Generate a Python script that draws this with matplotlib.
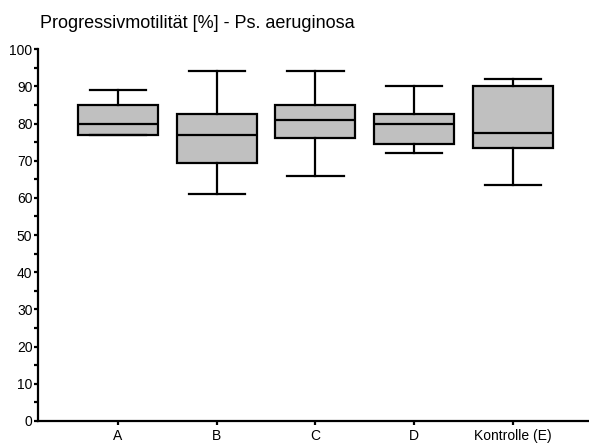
import matplotlib
matplotlib.use('Agg')
import matplotlib.pyplot as plt

plt.rcParams['font.family'] = ['Liberation Sans', 'DejaVu Sans']

# Box data
groups = ['A', 'B', 'C', 'D', 'Kontrolle (E)']
whisker_low = [77.0, 61.0, 66.0, 72.0, 63.5]
q1 = [77.0, 69.5, 76.0, 74.5, 73.5]
median = [80.0, 77.0, 81.0, 80.0, 77.5]
q3 = [85.0, 82.5, 85.0, 82.5, 90.0]
whisker_high = [89.0, 94.0, 94.0, 90.0, 92.0]

stats = []
for i in range(len(groups)):
    stats.append({
        'whislo': whisker_low[i],
        'q1': q1[i],
        'med': median[i],
        'q3': q3[i],
        'whishi': whisker_high[i],
        'fliers': [],
    })

fig = plt.figure(figsize=(5.89, 4.43), dpi=100)
ax = fig.add_axes([0.0645, 0.05, 0.9335, 0.839])

positions = list(range(1, len(groups) + 1))
ax.bxp(stats, positions=positions, widths=0.81, capwidths=0.57,
       patch_artist=True, showfliers=False,
       boxprops=dict(facecolor='#c0c0c0', edgecolor='black', linewidth=1.6),
       whiskerprops=dict(color='black', linewidth=1.6),
       capprops=dict(color='black', linewidth=1.6),
       medianprops=dict(color='black', linewidth=1.6))

ax.set_xlim(0.19, 5.76)
ax.set_ylim(0, 100)
ax.set_xticks(positions)
ax.set_xticklabels(groups)
ax.set_yticks(range(0, 101, 10))
ax.set_yticks(range(5, 100, 10), minor=True)

for side in ['top', 'right']:
    ax.spines[side].set_visible(False)
for side in ['left', 'bottom']:
    ax.spines[side].set_linewidth(1.6)

ax.tick_params(axis='both', which='both', direction='out', length=3, width=1.6, labelsize=10, pad=1)
ax.tick_params(axis='x', pad=3)

fig.text(0.068, 0.937, 'Progressivmotilität [%] - Ps. aeruginosa', fontsize=13, va='baseline')

fig.savefig('out.png', dpi=100)
